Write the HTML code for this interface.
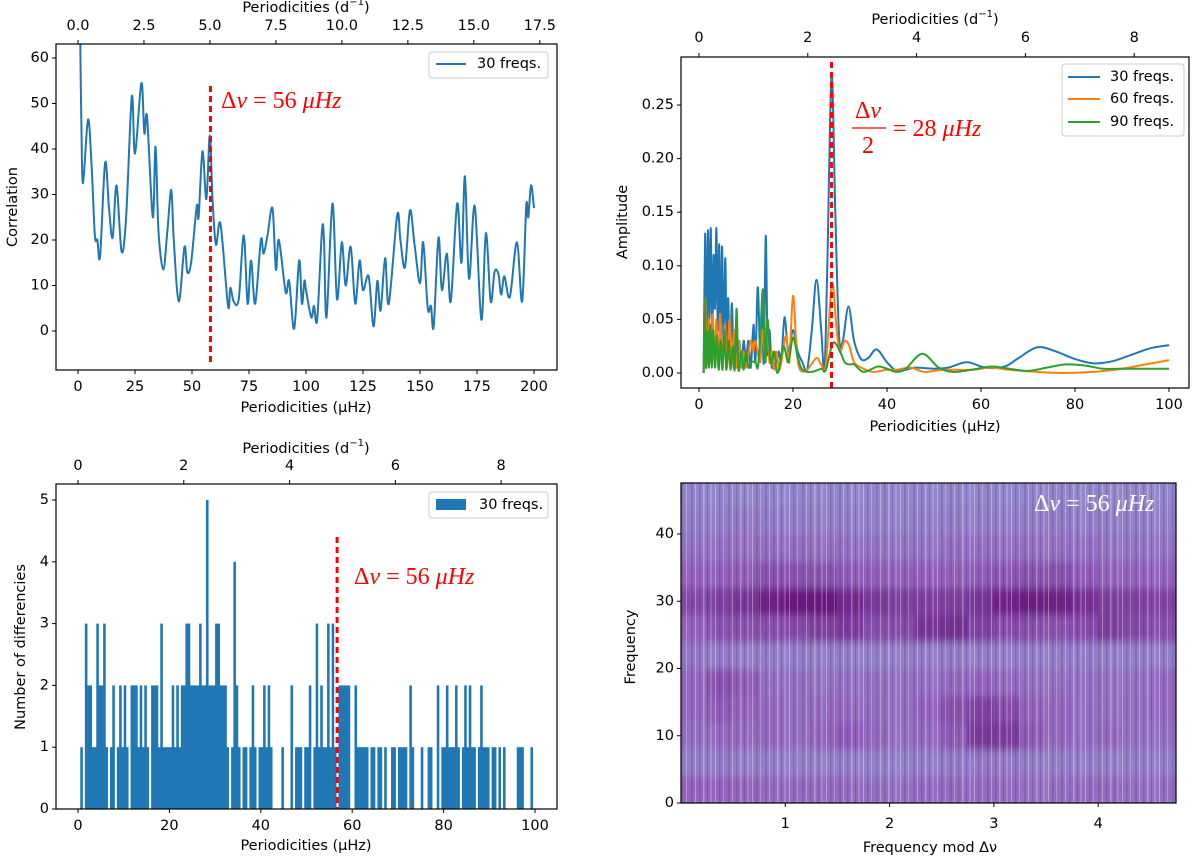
<!DOCTYPE html>
<html><head><meta charset="utf-8">
<style>
html,body{margin:0;padding:0;background:#fff;}
svg{display:block;font-family:"DejaVu Sans","Liberation Sans",sans-serif;}
.t{font-size:14.5px;fill:#000;}
.m{font-family:"Liberation Serif",serif;font-size:24px;}
</style></head>
<body>
<svg id="fig" width="1200" height="861" viewBox="0 0 1200 861" xmlns="http://www.w3.org/2000/svg">
<defs>
<filter id="vblur" x="0" y="0" width="1" height="1"><feGaussianBlur stdDeviation="0 4"/></filter>
<pattern id="stripes" width="37" height="10" patternUnits="userSpaceOnUse">
<rect x="0" y="0" width="1.5" height="10" fill="#fff" opacity="0.3"/>
<rect x="4" y="0" width="1" height="10" fill="#502070" opacity="0.25"/>
<rect x="7" y="0" width="2" height="10" fill="#fff" opacity="0.18"/>
<rect x="12" y="0" width="1" height="10" fill="#fff" opacity="0.35"/>
<rect x="16" y="0" width="1.5" height="10" fill="#502070" opacity="0.22"/>
<rect x="20" y="0" width="1" height="10" fill="#fff" opacity="0.25"/>
<rect x="25" y="0" width="2" height="10" fill="#502070" opacity="0.18"/>
<rect x="29" y="0" width="1" height="10" fill="#fff" opacity="0.32"/>
<rect x="33" y="0" width="1.5" height="10" fill="#502070" opacity="0.22"/>
</pattern>
<clipPath id="clipTL"><rect x="56" y="44" width="501" height="326"/></clipPath>
<clipPath id="clipTR"><rect x="681" y="57" width="508" height="331"/></clipPath>
<clipPath id="clipBR"><rect x="681" y="483" width="495" height="320"/></clipPath>
</defs>
</svg>
<script>
// ---------- DATA ----------
const corrX = [1.0,1.5,2.2,4.4,6,7.4,8.5,9.7,11.9,13.6,15.2,16.9,19.1,21.1,23.6,25,27.8,29.1,30.3,32.8,34,35.3,37.4,39.2,40.9,42,44.2,46.7,47.9,49.6,52.1,52.9,54.6,56.3,57.8,59,60.5,62.5,65.8,66.8,68.3,70.5,72.7,74.4,75.9,77.7,80.2,81.4,83.1,85.3,86.8,88.1,91.1,92.6,94.8,97,98.2,99.3,100,102.3,103.5,104.9,107,107.9,109,111.6,113.6,115.7,117.4,119.6,121.6,123.5,125,127.5,129.6,131.3,132.7,134.7,136.3,140,141.4,143.4,145.6,147.6,150,151.4,153.4,154.8,156,158.1,159.6,161.8,163.5,166.3,168.2,169.7,171.5,174,176.9,178.9,181,182.7,184.4,185.6,187,189.4,192.5,194.8,196.6,197.5,198.7,200];
const corrY = [63,45,32.5,46.5,36,21,20,16.5,37,27,20.5,32,17.5,25,51.5,39,54.5,43.5,47,25,40.5,22,13.5,22,31,20,6.5,18.5,13,15,27.5,25,39.5,29,43,29,19,23.5,5.5,9.5,6.5,7,21,6,15.5,6,20,17,21,27,13.5,20,8.5,11,0.5,15.5,6,11,9,3,5.5,2.5,22,20,3,28,7,19.5,10,18.5,6,15.5,9,12,1,11,4.5,16,6,25.5,20,14,26.5,19,10.5,19.5,5,5.5,1,20.5,9,17,6.5,28,15,34,11.5,27.5,2.5,21.5,6.5,13,12.5,8,12,7.5,19.5,6.5,27.5,25,32,27];
const tlXTicks = [0,25,50,75,100,125,150,175,200];
const tlYTicks = [0,10,20,30,40,50,60];
const tlTopTicks = ["0.0","2.5","5.0","7.5","10.0","12.5","15.0","17.5"];
const tlDeltaNu = 58.1;

const ampBlueX = [1,1.3,1.6,1.9,2.2,2.5,2.8,3.1,3.4,3.7,4,4.3,4.6,4.9,5.2,5.6,5.9,6.2,6.6,7,7.4,7.8,8.2,8.6,9,9.5,10,10.5,11,11.6,12,12.5,13,13.4,13.8,14.2,14.6,15,15.5,16,16.5,17,17.5,18.2,19,20,21,22,23,24,25,26,26.7,27.3,28.2,29,29.8,30.6,31.8,33,34.5,36,37.8,40,42,44,46,50,53,57,61,65,68,72,76,80,84,88,92,96,100];
const ampBlueY = [0,0.13,0.02,0.133,0.05,0.135,0.03,0.11,0.06,0.135,0.04,0.12,0.02,0.118,0.03,0.107,0.01,0.07,0.01,0.065,0.005,0.04,0.01,0.03,0.005,0.03,0.01,0.03,0.005,0.045,0.01,0.08,0.02,0.06,0.01,0.128,0.02,0.04,0.005,0.02,0.01,0.02,0.01,0.052,0.02,0.04,0.02,0.01,0.003,0.04,0.087,0.04,0.003,0.1,0.277,0.15,0.035,0.03,0.062,0.03,0.013,0.014,0.022,0.01,0.002,0.003,0.005,0.004,0.005,0.01,0.005,0.006,0.014,0.024,0.02,0.013,0.009,0.011,0.017,0.023,0.026];
const ampOrangeX = [1,1.3,1.7,2.1,2.5,2.9,3.3,3.7,4.1,4.5,5,5.5,6,6.5,7,7.5,8,8.5,9,9.5,10,11,11.5,12,13,13.5,14,14.5,15,15.5,16,16.5,17,17.5,18.5,19.2,20,20.8,21.5,23,25,26,27,28.3,29.3,30,31,32,33,35,37,40,42,45,48,52,58,62,66,72,78,84,90,95,100];
const ampOrangeY = [0,0.07,0.01,0.05,0.01,0.055,0.01,0.05,0.005,0.055,0.01,0.045,0.005,0.05,0.01,0.04,0.005,0.03,0.005,0.02,0.005,0.03,0.02,0.03,0.01,0.04,0.02,0.045,0.01,0.02,0.003,0.02,0.003,0.01,0.035,0.01,0.072,0.02,0.003,0.003,0.014,0.008,0.008,0.083,0.04,0.02,0.03,0.025,0.01,0.004,0.001,0.003,0.003,0.005,0.001,0.003,0.003,0.005,0.003,0.001,0,0.001,0.004,0.008,0.012];
const ampGreenX = [1,1.2,1.5,1.8,2.1,2.4,2.7,3,3.4,3.8,4.2,4.6,5,5.4,5.8,6.3,6.7,7.2,7.6,8,8.4,9,9.5,10,10.5,11,12,12.5,13,13.6,14.1,14.6,15.2,16,16.5,17,18,19,20,21,22,24,26,27,28.5,30,31,32,33,35,38,40,42,44,47.5,51,54,58,62,66,70,74,78,82,86,90,100];
const ampGreenY = [0,0.07,0.005,0.04,0.005,0.045,0.005,0.04,0.005,0.035,0.003,0.03,0.003,0.04,0.003,0.03,0.003,0.025,0.003,0.06,0.003,0.02,0.003,0.02,0.005,0.01,0.01,0.005,0.03,0.078,0.01,0.05,0.01,0.02,0.002,0.003,0.025,0.01,0.033,0.015,0.003,0.001,0.004,0.003,0.028,0.02,0.01,0.008,0.008,0.001,0.006,0.004,0.001,0.004,0.018,0.005,0.001,0.003,0.006,0.004,0.002,0.005,0.008,0.007,0.004,0.004,0.004];
const trXTicks = [0,20,40,60,80,100];
const trYTicks = [0,0.05,0.10,0.15,0.20,0.25];
const trYLabels = ["0.00","0.05","0.10","0.15","0.20","0.25"];
const trTopTicks = [0,2,4,6,8];
const trHalfDeltaNu = 28.2;

const histBinWidth = 0.5;
const histCounts = [0,1,0,3,2,2,1,1,3,2,2,3,1,0,1,2,0,1,2,1,2,1,0,2,2,2,1,2,1,2,1,0,2,2,2,1,3,1,1,1,1,2,1,2,1,2,2,3,3,2,2,2,2,3,2,2,5,2,2,2,3,3,2,2,2,1,0,1,4,2,1,0,1,1,0,1,2,1,0,1,1,2,1,2,1,0,0,0,0,1,0,0,0,2,0,1,1,1,0,1,1,2,0,1,3,1,2,1,1,3,1,3,1,0,2,2,2,2,2,0,0,2,1,1,1,1,1,0,1,1,0,1,1,0,1,0,0,1,1,0,1,1,1,1,0,2,1,0,0,0,1,0,0,1,1,0,0,2,0,1,1,2,1,1,1,2,1,0,1,2,1,2,1,1,0,1,2,1,1,1,0,1,1,0,1,0,1,0,0,0,0,0,1,1,1,0,0,0,1,0];
const blXTicks = [0,20,40,60,80,100];
const blYTicks = [0,1,2,3,4,5];
const blTopTicks = [0,2,4,6,8];
const blDeltaNu = 56.7;

const heatRowEdges = [0,4,8,12,16,20,24,28,32,36,40,44,48];
const heatColEdges = [0,0.25,0.5,0.75,1,1.25,1.5,1.75,2,2.25,2.5,2.75,3,3.25,3.5,3.75,4,4.25,4.5,4.75];
const heatValues = [
 [0.5,0.5,0.5,0.45,0.45,0.45,0.45,0.42,0.42,0.45,0.45,0.45,0.45,0.42,0.42,0.45,0.45,0.42,0.42],
 [0.3,0.32,0.3,0.3,0.28,0.3,0.3,0.28,0.28,0.3,0.32,0.35,0.35,0.3,0.3,0.3,0.3,0.3,0.3],
 [0.4,0.45,0.45,0.45,0.42,0.5,0.55,0.45,0.4,0.45,0.55,0.75,0.75,0.55,0.45,0.42,0.45,0.4,0.4],
 [0.45,0.55,0.5,0.45,0.42,0.45,0.45,0.42,0.42,0.5,0.6,0.7,0.65,0.5,0.45,0.42,0.42,0.42,0.45],
 [0.45,0.6,0.55,0.42,0.4,0.4,0.4,0.4,0.4,0.42,0.45,0.5,0.45,0.42,0.4,0.4,0.4,0.4,0.45],
 [0.35,0.32,0.3,0.3,0.3,0.3,0.3,0.28,0.3,0.3,0.3,0.3,0.3,0.3,0.3,0.32,0.3,0.3,0.3],
 [0.5,0.6,0.62,0.62,0.65,0.72,0.75,0.62,0.65,0.78,0.8,0.7,0.65,0.62,0.6,0.65,0.72,0.65,0.62],
 [0.65,0.72,0.78,0.9,0.95,0.95,0.85,0.75,0.72,0.72,0.72,0.78,0.88,0.92,0.9,0.8,0.72,0.7,0.68],
 [0.5,0.52,0.55,0.6,0.6,0.6,0.55,0.52,0.52,0.52,0.52,0.55,0.58,0.6,0.6,0.55,0.5,0.5,0.5],
 [0.38,0.4,0.42,0.42,0.42,0.42,0.4,0.38,0.38,0.38,0.4,0.42,0.42,0.42,0.4,0.4,0.38,0.38,0.38],
 [0.3,0.3,0.35,0.32,0.3,0.3,0.3,0.28,0.28,0.3,0.3,0.3,0.3,0.3,0.32,0.3,0.3,0.3,0.3],
 [0.25,0.25,0.25,0.25,0.25,0.25,0.25,0.25,0.25,0.25,0.25,0.25,0.25,0.25,0.25,0.25,0.25,0.25,0.25]
];
const brXTicks = [1,2,3,4];
const brYTicks = [0,10,20,30,40];

// ---------- HELPERS ----------
const NS = "http://www.w3.org/2000/svg";
const fig = document.getElementById('fig');
function mk(tag, attrs, parent){
  const e = document.createElementNS(NS, tag);
  for (const k in attrs) e.setAttribute(k, attrs[k]);
  (parent||fig).appendChild(e);
  return e;
}
function txt(x,y,s,anchor,cls,parent){
  const t = mk('text',{x:x,y:y,'text-anchor':anchor||'middle','dominant-baseline':'central','class':cls||'t'},parent);
  t.textContent = s;
  return t;
}
function lin(d0,d1,p0,p1){ return v => p0 + (v-d0)*(p1-p0)/(d1-d0); }
function smoothPath(pts){
  let d = 'M'+pts[0][0].toFixed(2)+','+pts[0][1].toFixed(2);
  for (let i=0;i<pts.length-1;i++){
    const p0=pts[Math.max(0,i-1)], p1=pts[i], p2=pts[i+1], p3=pts[Math.min(pts.length-1,i+2)];
    const c1x=p1[0]+(p2[0]-p0[0])/6, c1y=p1[1]+(p2[1]-p0[1])/6;
    const c2x=p2[0]-(p3[0]-p1[0])/6, c2y=p2[1]-(p3[1]-p1[1])/6;
    d += ' C'+c1x.toFixed(2)+','+c1y.toFixed(2)+' '+c2x.toFixed(2)+','+c2y.toFixed(2)+' '+p2[0].toFixed(2)+','+p2[1].toFixed(2);
  }
  return d;
}
function axisBox(x0,y0,x1,y1,name){
  const r = mk('rect',{x:x0,y:y0,width:x1-x0,height:y1-y0,fill:'none',stroke:'#000','stroke-width':1.2});
  
  
}
function xTicks(vals,labels,sx,yAxis,dir,labelY,name){
  const g = mk('g',{});
  
  
  vals.forEach((v,i)=>{
    const x = sx(v);
    mk('line',{x1:x,x2:x,y1:yAxis,y2:yAxis+dir*4,stroke:'#000','stroke-width':1},g);
    const t = txt(x,labelY,labels?labels[i]:String(v),'middle','t',g);
    
    
  });
}
function yTicks(vals,labels,sy,xAxis,name){
  const g = mk('g',{});
  
  
  vals.forEach((v,i)=>{
    const y = sy(v);
    mk('line',{x1:xAxis,x2:xAxis-4,y1:y,y2:y,stroke:'#000','stroke-width':1},g);
    const t = txt(xAxis-7,y,labels?labels[i]:String(v),'end','t',g);
    
    
  });
}
function label(x,y,s,rot,name){
  const t = txt(x,y,s,'middle','t');
  if (rot) t.setAttribute('transform','rotate(-90 '+x+' '+y+')');
  
  
  return t;
}
function supLabel(x,y,name){
  const t = mk('text',{x:x,y:y,'text-anchor':'middle','dominant-baseline':'central','class':'t'});
  
  
  t.innerHTML = 'Periodicities (d<tspan dy="-6" font-size="10">−1</tspan><tspan dy="6">)</tspan>';
}
function dnuText(x,y,color,name){
  const t = mk('text',{x:x,y:y,'dominant-baseline':'central','class':'m'});
  t.style.fill = color;
  
  
  t.innerHTML = 'Δ<tspan font-style="italic">ν</tspan> = 56 <tspan font-style="italic">μHz</tspan>';
  return t;
}
const DAY = 0.0864;

// ---------- TOP-LEFT ----------
{
  const sx = lin(0,200,78,534), sy = lin(0,60,331,58);
  const pts = corrX.map((x,i)=>[sx(x), sy(corrY[i])]);
  const p = mk('path',{d:smoothPath(pts),fill:'none',stroke:'#1f77b4','stroke-width':2,'clip-path':'url(#clipTL)'});
  
  
  const dl = mk('line',{x1:sx(tlDeltaNu),x2:sx(tlDeltaNu),y1:86,y2:363,stroke:'#f00','stroke-width':3,'stroke-dasharray':'6,4'});
  
  
  dnuText(221,101,'#f00','delta-nu-annotation');
  axisBox(56,44,557,370,'correlation-axes');
  xTicks(tlXTicks,null,sx,370,1,387,'x-axis-bottom');
  yTicks(tlYTicks,null,sy,56,'y-axis');
  xTicks(tlTopTicks.map(Number),tlTopTicks,v=>sx(v/DAY),44,-1,26,'x-axis-top');
  label(306,408,'Periodicities (μHz)',false,'x-axis-title');
  supLabel(306,8,'x-axis-top-title');
  label(13,207,'Correlation',true,'y-axis-title');
  const lg = mk('g',{});
  
  
  mk('rect',{x:429,y:52,width:119,height:26,rx:3,fill:'#fff',stroke:'#ccc','stroke-width':1},lg);
  mk('line',{x1:436,x2:466,y1:64,y2:64,stroke:'#1f77b4','stroke-width':2},lg);
  const lt = txt(477,64,'30 freqs.','start','t',lg);
  
  
}

// ---------- TOP-RIGHT ----------
{
  const sx = lin(0,100,699,1169), sy = lin(0,0.25,373,105);
  const series = [[ampBlueX,ampBlueY,'#1f77b4','amp-30-line'],[ampOrangeX,ampOrangeY,'#ff7f0e','amp-60-line'],[ampGreenX,ampGreenY,'#2ca02c','amp-90-line']];
  series.forEach(s=>{
    const pts = s[0].map((x,i)=>[sx(x), sy(s[1][i])]);
    const p = mk('path',{d:smoothPath(pts),fill:'none',stroke:s[2],'stroke-width':2,'clip-path':'url(#clipTR)'});
    
    
  });
  const dl = mk('line',{x1:sx(trHalfDeltaNu),x2:sx(trHalfDeltaNu),y1:62,y2:388,stroke:'#f00','stroke-width':3,'stroke-dasharray':'6,4'});
  
  
  const ag = mk('g',{});
  
  
  ag.style.fill = '#f00';
  const a1 = mk('text',{x:868,y:111,'text-anchor':'middle','dominant-baseline':'central','class':'m'},ag);
  a1.innerHTML = 'Δ<tspan font-style="italic">ν</tspan>';
  mk('line',{x1:852,x2:886,y1:128,y2:128,stroke:'#f00','stroke-width':1.3},ag);
  const a2 = mk('text',{x:868,y:146,'text-anchor':'middle','dominant-baseline':'central','class':'m'},ag);
  a2.textContent = '2';
  const a3 = mk('text',{x:893,y:129,'dominant-baseline':'central','class':'m'},ag);
  a3.innerHTML = '= 28 <tspan font-style="italic">μHz</tspan>';
  axisBox(681,57,1189,388,'amplitude-axes');
  xTicks(trXTicks,null,sx,388,1,405,'x-axis-bottom');
  yTicks(trYTicks,trYLabels,sy,681,'y-axis');
  xTicks(trTopTicks,null,v=>sx(v/DAY),57,-1,38,'x-axis-top');
  label(935,427,'Periodicities (μHz)',false,'x-axis-title');
  supLabel(935,20,'x-axis-top-title');
  label(623,222,'Amplitude',true,'y-axis-title');
  const lg = mk('g',{});
  
  
  mk('rect',{x:1062,y:64,width:122,height:72,rx:3,fill:'#fff',stroke:'#ccc','stroke-width':1},lg);
  [['30 freqs.','#1f77b4',77],['60 freqs.','#ff7f0e',99],['90 freqs.','#2ca02c',122]].forEach(e=>{
    mk('line',{x1:1068,x2:1100,y1:e[2],y2:e[2],stroke:e[1],'stroke-width':2},lg);
    const t = txt(1110,e[2],e[0],'start','t',lg);
    
    
  });
}

// ---------- BOTTOM-LEFT ----------
{
  const sx = lin(0,100,78,535), sy = lin(0,5,809,500);
  const g = mk('g',{});
  
  
  histCounts.forEach((c,i)=>{
    if (c<=0) return;
    const x0 = sx(i*histBinWidth), x1 = sx((i+1)*histBinWidth);
    const r = mk('rect',{x:x0,y:sy(c),width:x1-x0+0.3,height:sy(0)-sy(c),fill:'#1f77b4'},g);
    
    
  });
  const dl = mk('line',{x1:sx(blDeltaNu),x2:sx(blDeltaNu),y1:537,y2:809,stroke:'#f00','stroke-width':3,'stroke-dasharray':'6,4'});
  
  
  dnuText(354,577,'#f00','delta-nu-annotation');
  axisBox(56,484,557,809,'histogram-axes');
  xTicks(blXTicks,null,sx,809,1,826,'x-axis-bottom');
  yTicks(blYTicks,null,sy,56,'y-axis');
  xTicks(blTopTicks,null,v=>sx(v/DAY),484,-1,466,'x-axis-top');
  label(306,846,'Periodicities (μHz)',false,'x-axis-title');
  supLabel(306,449,'x-axis-top-title');
  label(21,647,'Number of differencies',true,'y-axis-title');
  const lg = mk('g',{});
  
  
  mk('rect',{x:429,y:492,width:119,height:26,rx:3,fill:'#fff',stroke:'#ccc','stroke-width':1},lg);
  mk('rect',{x:436,y:499,width:30,height:11,fill:'#1f77b4'},lg);
  const lt = txt(479,505,'30 freqs.','start','t',lg);
  
  
}

// ---------- BOTTOM-RIGHT ----------
{
  const sx = lin(0,1,681,785.3), sy = lin(0,40,803,534);
  function cmap(v){
    const stops = [[0,[145,168,214]],[0.5,[148,100,190]],[1,[100,15,120]]];
    let a=stops[0], b=stops[1];
    if (v>0.5){a=stops[1]; b=stops[2];}
    const t = (v-a[0])/(b[0]-a[0]);
    const c = a[1].map((q,k)=>Math.round(q+(b[1][k]-q)*t));
    return 'rgb('+c.join(',')+')';
  }
  const clip = mk('g',{'clip-path':'url(#clipBR)'});
  
  
  mk('rect',{x:681,y:483,width:495,height:320,fill:cmap(0.3)},clip);
  const g = mk('g',{filter:'url(#vblur)'},clip);
  heatValues.forEach((row,ri)=>{
    row.forEach((v,ci)=>{
      const x0 = sx(heatColEdges[ci]), x1 = sx(heatColEdges[ci+1]);
      const y0 = sy(heatRowEdges[ri+1]), y1 = sy(heatRowEdges[ri]);
      const r = mk('rect',{x:x0-0.5,y:y0-0.5,width:x1-x0+1,height:y1-y0+1,fill:cmap(v)},g);
      
      
    });
  });
  mk('rect',{x:681,y:483,width:495,height:320,fill:'url(#stripes)'},clip);
  dnuText(1034,504,'#ffffff','delta-nu-label');
  axisBox(681,483,1176,803,'echelle-axes');
  xTicks(brXTicks,null,sx,803,1,824,'x-axis-bottom');
  yTicks(brYTicks,null,sy,681,'y-axis');
  label(930,848,'Frequency mod Δν',false,'x-axis-title');
  label(631,647,'Frequency',true,'y-axis-title');
}
</script>
</body></html>
